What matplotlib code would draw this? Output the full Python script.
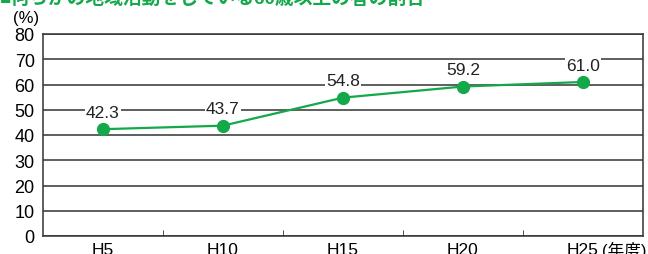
import matplotlib
matplotlib.use("Agg")
import matplotlib.pyplot as plt

plt.rcParams['font.family'] = ['Liberation Sans', 'Noto Sans CJK JP', 'DejaVu Sans']

years  = ["H5", "H10", "H15", "H20", "H25"]
values = [42.3, 43.7, 54.8, 59.2, 61.0]
yticks = [0, 10, 20, 30, 40, 50, 60, 70, 80]

TITLE = "■何らかの地域活動をしている60歳以上の者の割合"
GREEN = "#13a84a"
DARK  = "#333333"

fig = plt.figure(figsize=(6.48, 2.55), dpi=100)
ax = fig.add_axes([43 / 648, 1 - 237 / 255, 600 / 648, 202 / 255])

x = list(range(len(years)))
ax.set_xlim(-0.5, len(years) - 0.5)
ax.set_ylim(0, 80)
ax.set_yticks(yticks)
ax.yaxis.grid(True, color=DARK, lw=1.1)
ax.set_axisbelow(True)

ax.plot(x, values, color=GREEN, lw=1.6, marker="o", ms=8.5, zorder=3)
for xi, v in zip(x, values):
    ax.annotate(f"{v:.1f}", (xi, v), xytext=(0, 12), textcoords="offset points",
                ha="center", va="center", fontsize=12.5, color="#222222",
                bbox=dict(boxstyle="square,pad=0.05", fc="white", ec="none"), zorder=4)

ax.set_xticks(x)
ax.set_xticklabels(years, fontsize=12.5)
ax.set_xticks([i + 0.5 for i in x[:-1]], minor=True)
ax.tick_params(axis="x", which="major", length=0, pad=4)
ax.tick_params(axis="x", which="minor", direction="in", length=4, color=DARK)
ax.tick_params(axis="y", length=0, labelsize=13, pad=6)
for s in ax.spines.values():
    s.set_color(DARK)
    s.set_linewidth(1.1)

fig.text(13 / 648, 1 - 19 / 255, "(%)", fontsize=12, va="center", ha="left")
fig.text(602 / 648, 1 - 250 / 255, "(年度)", fontsize=12, va="center", ha="left")
fig.text(0.0, 1 + 1 / 255, TITLE, fontsize=13.5, fontweight="bold", color=GREEN,
         va="center", ha="left")

fig.savefig("out.png", dpi=100)
